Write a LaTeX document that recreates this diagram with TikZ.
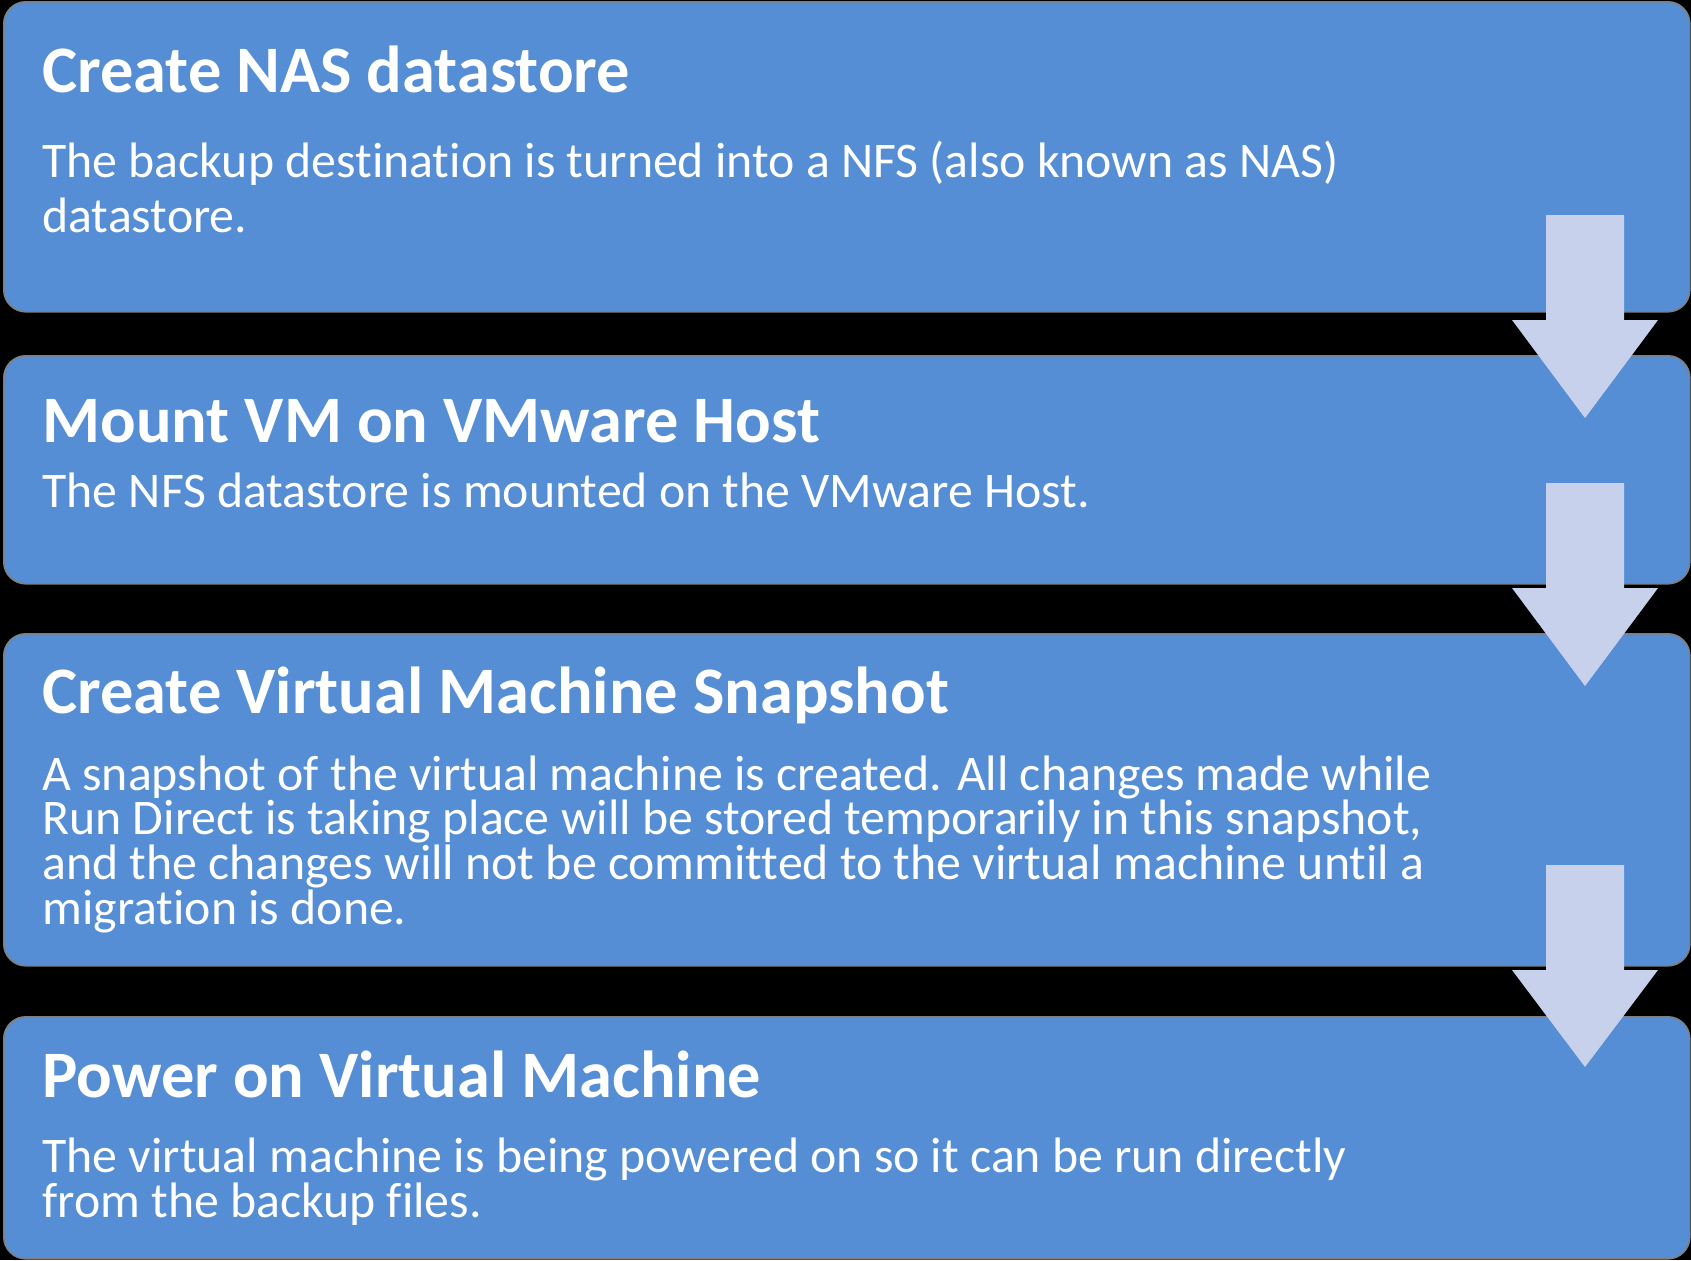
\documentclass[tikz,border=0pt]{standalone}
\usepackage{fontspec}
\setmainfont{Carlito}[Ligatures=NoCommon]
\definecolor{bleu}{RGB}{85,142,213}
\definecolor{fleche}{RGB}{200,209,236}

\begin{document}
\begin{tikzpicture}[x=.5pt, y=-.5pt,
        boite/.style={fill=bleu, draw=gray, line width=.8pt, rounded corners=11pt, anchor=north west, inner sep=0pt, minimum width=843pt},
        titre/.style={anchor=base west, inner sep=0pt, text=white, font=\fontsize{33.2}{40}\selectfont\bfseries},
        texte/.style={anchor=base west, inner sep=0pt, text=white, align=left, font=\fontsize{24.9}{22.3}\selectfont}]
        % fond noir, une image de 1691 x 1260
        % (l'ancre base d'un texte sur plusieurs lignes est la ligne du bas)
        \useasboundingbox (0, 0) rectangle (1691, 1260);
        \fill[black] (0, 0) rectangle (1691, 1260);
        \node[boite, minimum height=155pt] (etape1) at (3, 1) {};
        \node[boite, minimum height=114pt] (etape2) at (3, 355) {};
        \node[boite, minimum height=166pt] (etape3) at (3, 633) {};
        \node[boite, minimum height=121pt] (etape4) at (3, 1016) {};
        \node[titre] (titre1) at (42, 92) {Create NAS datastore};
        \node[texte, font=\fontsize{24.9}{27.5}\selectfont] (texte1) at (42, 232) {The backup destination is turned into a NFS (also known as NAS)\\datastore.};
        \node[titre] (titre2) at (42, 442) {Mount VM on VMware Host};
        \node[texte] (texte2) at (42, 507) {The NFS datastore is mounted on the VMware Host.};
        \node[titre] (titre3) at (42, 713) {Create Virtual Machine Snapshot};
        \node[texte] (texte3) at (42, 924) {A snapshot of the virtual machine is created. All changes made while\\Run Direct is taking place will be stored temporarily in this snapshot,\\and the changes will not be committed to the virtual machine until a\\migration is done.};
        \node[titre] (titre4) at (42, 1097) {Power on Virtual Machine};
        \node[texte] (texte4) at (42, 1217) {The virtual machine is being powered on so it can be run directly\\from the backup files.};
        % les flèches entre les étapes
        \foreach \haut / \pointe in {215 / 418, 483 / 686, 865 / 1067} {
            \fill[fleche] (1546, \haut) -- (1624, \haut) -- (1624, {\haut + 105}) -- (1658, {\haut + 105})
                -- (1585, \pointe) -- (1512, {\haut + 105}) -- (1546, {\haut + 105}) -- cycle;
        }
    \end{tikzpicture}
\end{document}
